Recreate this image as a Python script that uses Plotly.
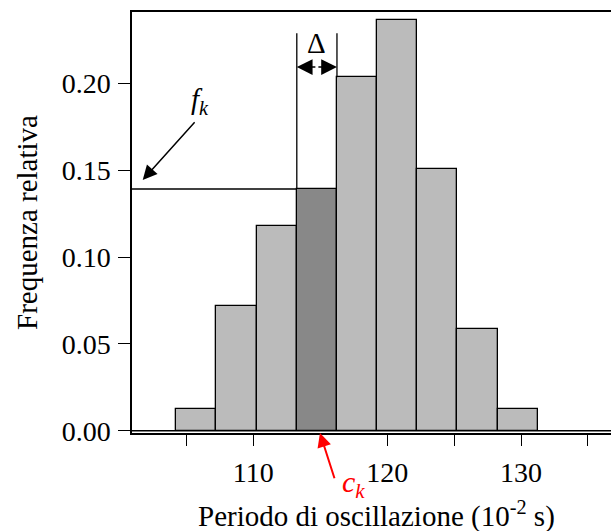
import plotly.graph_objects as go

# Data
bin_centers = [105.75, 108.75, 111.75, 114.75, 117.75, 120.75, 123.75, 126.75, 129.75]
bin_width = 3.0
rel_freq = [0.0127, 0.0721, 0.1178, 0.1392, 0.2035, 0.2363, 0.1507, 0.0587, 0.0127]
highlight_index = 3
y_ticks = [0.00, 0.05, 0.10, 0.15, 0.20]
x_major_ticks = [110, 120, 130]

FONT = "Liberation Serif, Times New Roman, serif"
LIGHT = "#bbbbbb"
DARK = "#888888"

colors = [DARK if i == highlight_index else LIGHT for i in range(len(bin_centers))]

xr = [100.94, 136.72]
yr = [-0.0013, 0.2411]

fig = go.Figure()
fig.add_trace(go.Bar(
    x=bin_centers, y=rel_freq, width=bin_width,
    marker=dict(color=colors, line=dict(color="black", width=1.3)),
    showlegend=False, hoverinfo="skip",
))

hc = bin_centers[highlight_index]
hl = hc - bin_width / 2
hr = hc + bin_width / 2
hf = rel_freq[highlight_index]

shapes = [
    dict(type="line", xref="x", yref="y", x0=xr[0], x1=xr[1], y0=0, y1=0,
         line=dict(color="black", width=1.5)),
    dict(type="line", xref="x", yref="y", x0=xr[0], x1=hl, y0=hf, y1=hf,
         line=dict(color="black", width=1.3)),
    dict(type="line", xref="x", yref="y", x0=hl, x1=hl, y0=hf, y1=0.2288,
         line=dict(color="black", width=1.3)),
    dict(type="line", xref="x", yref="y", x0=hr, x1=hr, y0=rel_freq[highlight_index + 1], y1=0.2288,
         line=dict(color="black", width=1.3)),
]

ann = []
for tip in (hl, hr):
    ann.append(dict(x=tip, y=0.2094, ax=hc, ay=0.2094, xref="x", yref="y",
                    axref="x", ayref="y", text="", showarrow=True,
                    arrowhead=2, arrowsize=2.1, arrowwidth=1.5, arrowcolor="black",
                    standoff=0, startstandoff=0))
ann.append(dict(x=hc, y=0.2232, xref="x", yref="y", text="Δ", showarrow=False,
                xanchor="center", yanchor="middle",
                font=dict(family=FONT, size=29, color="black")))
ann.append(dict(x=101.74, y=0.1444, ax=105.72, ay=0.1785, xref="x", yref="y",
                axref="x", ayref="y", text="", showarrow=True,
                arrowhead=2, arrowsize=1.9, arrowwidth=1.5, arrowcolor="black",
                standoff=0, startstandoff=0))
ann.append(dict(x=106.0, y=0.190, xref="x", yref="y",
                text="<i>f</i><sub><i>k</i></sub>", showarrow=False,
                xanchor="center", yanchor="middle",
                font=dict(family=FONT, size=29, color="black")))
ann.append(dict(x=114.98, y=-0.0013, ax=116.10, ay=-0.0282, xref="x", yref="y",
                axref="x", ayref="y", text="", showarrow=True,
                arrowhead=2, arrowsize=1.4, arrowwidth=2, arrowcolor="red",
                standoff=0, startstandoff=0))
ann.append(dict(x=(353 - 132) / 479, y=(433 - 484) / 421, xref="paper", yref="paper",
                text="<i>c</i><sub><i>k</i></sub>", showarrow=False,
                xanchor="center", yanchor="middle",
                font=dict(family=FONT, size=30, color="red")))
ann.append(dict(x=(376 - 132) / 479, y=(433 - 514) / 421, xref="paper", yref="paper",
                text="Periodo di oscillazione (10<sup>-2</sup> s)", showarrow=False,
                xanchor="center", yanchor="middle",
                font=dict(family=FONT, size=29, color="black")))
ann.append(dict(x=(26.5 - 132) / 479, y=0.5, xref="paper", yref="paper", textangle=-90,
                text="Frequenza relativa", showarrow=False,
                xanchor="center", yanchor="middle",
                font=dict(family=FONT, size=29, color="black")))

fig.update_layout(
    width=611, height=531,
    margin=dict(l=132, r=0, t=12, b=98),
    paper_bgcolor="white", plot_bgcolor="white",
    bargap=0,
    shapes=shapes, annotations=ann,
    font=dict(family=FONT, size=28, color="black"),
)
fig.update_xaxes(
    range=xr, showgrid=False, zeroline=False,
    showline=True, linecolor="black", linewidth=1.5, mirror=True,
    ticks="outside", ticklen=11, tickwidth=1.3, tickcolor="black",
    tickvals=x_major_ticks, ticktext=[str(v) for v in x_major_ticks],
    minor=dict(dtick=5, tick0=0, ticks="outside", ticklen=11, tickwidth=1.3, tickcolor="black"),
    tickfont=dict(family=FONT, size=28, color="black"),
    ticklabelstandoff=3,
)
fig.update_yaxes(
    range=yr, showgrid=False, zeroline=False,
    showline=True, linecolor="black", linewidth=1.5, mirror=False,
    ticks="outside", ticklen=12, tickwidth=1.3, tickcolor="black",
    tickvals=y_ticks, ticktext=[f"{v:.2f}" for v in y_ticks],
    tickfont=dict(family=FONT, size=28, color="black"),
    ticklabelstandoff=2,
)

fig.write_html("out.html", post_script="document.body.style.margin='0';",
               config={"displayModeBar": False})
